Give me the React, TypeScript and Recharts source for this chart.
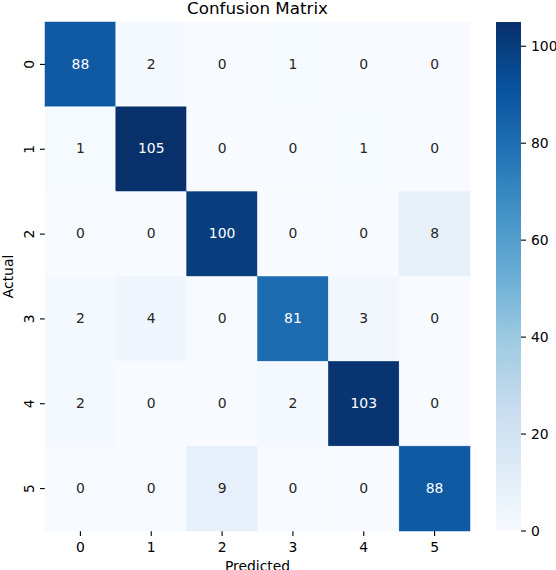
import React from 'react';
import { ScatterChart, Scatter, XAxis, YAxis, BarChart, Bar } from 'recharts';

// class labels for both axes
const classLabels = [0, 1, 2, 3, 4, 5];

// one array per actual class (row), values per predicted class (column)
const actual0 = [88, 2, 0, 1, 0, 0];
const actual1 = [1, 105, 0, 0, 1, 0];
const actual2 = [0, 0, 100, 0, 0, 8];
const actual3 = [2, 4, 0, 81, 3, 0];
const actual4 = [2, 0, 0, 2, 103, 0];
const actual5 = [0, 0, 9, 0, 0, 88];

const colorbarTicks = [0, 20, 40, 60, 80, 100];
const vmax = 105;

// matplotlib "Blues"
const blues = ['#f7fbff', '#deebf7', '#c6dbef', '#9ecae1', '#6baed6', '#4292c6', '#2171b5', '#08519c', '#08306b'];

const FONT = '"DejaVu Sans", sans-serif';
const PLOT_W = 425;
const PLOT_H = 509;
const CELL_W = PLOT_W / classLabels.length;
const CELL_H = PLOT_H / classLabels.length;

const hexToRgb = (h: string) => [1, 3, 5].map((i) => parseInt(h.slice(i, i + 2), 16));

const blueAt = (t: number) => {
  const p = Math.max(0, Math.min(1, t)) * (blues.length - 1);
  const i = Math.min(Math.floor(p), blues.length - 2);
  const f = p - i;
  const a = hexToRgb(blues[i]);
  const b = hexToRgb(blues[i + 1]);
  const c = a.map((v, k) => Math.round(v + (b[k] - v) * f));
  return { rgb: c, css: `rgb(${c[0]},${c[1]},${c[2]})` };
};

// seaborn picks annotation colour from the cell luminance
const luminance = (rgb: number[]) => {
  const lin = rgb.map((v) => {
    const s = v / 255;
    return s <= 0.03928 ? s / 12.92 : Math.pow((s + 0.055) / 1.055, 2.4);
  });
  return 0.2126 * lin[0] + 0.7152 * lin[1] + 0.0722 * lin[2];
};

const rows = [actual0, actual1, actual2, actual3, actual4, actual5];
const cells = rows.flatMap((row, r) => row.map((v, c) => ({ x: c, y: r, v })));
const colorbarData = [{ name: 'scale', v: vmax }];

// gradient stops top (dark) -> bottom (light)
const gradientStops = [...blues].reverse();

const HeatCell = (props: any) => {
  const { cx, cy, payload } = props;
  const col = blueAt(payload.v / vmax);
  const textFill = luminance(col.rgb) > 0.408 ? '#262626' : '#ffffff';
  return (
    <g>
      <rect
        x={cx - CELL_W / 2}
        y={cy - CELL_H / 2}
        width={CELL_W}
        height={CELL_H}
        fill={col.css}
        stroke={col.css}
        strokeWidth={0.5}
      />
      <text x={cx} y={cy} dy="0.3em" textAnchor="middle" fontSize={13.9} fontFamily={FONT} fill={textFill}>
        {payload.v}
      </text>
    </g>
  );
};

const RotatedTick = (props: any) => {
  const { y, payload } = props;
  return (
    <text
      x={34}
      y={y}
      transform={`rotate(-90 34 ${y})`}
      textAnchor="middle"
      fontSize={13.9}
      fontFamily={FONT}
      fill="#000"
    >
      {payload.value}
    </text>
  );
};

export default function App() {
  return (
    <div style={{ position: 'absolute', left: 0, top: 0, width: 556, height: 570, background: '#fff' }}>
      <div style={{ position: 'absolute', left: 0, top: 0 }}>
        <ScatterChart width={556} height={570} margin={{ top: 22, right: 86, bottom: 0, left: 0 }}>
          <XAxis
            type="number"
            dataKey="x"
            domain={[-0.5, 5.5]}
            ticks={classLabels}
            height={39}
            axisLine={false}
            tickSize={5}
            tickMargin={6}
            tickLine={{ stroke: '#000', strokeWidth: 1.1 }}
            tick={{ fontSize: 13.9, fontFamily: FONT, fill: '#000' }}
          />
          <YAxis
            type="number"
            dataKey="y"
            domain={[-0.5, 5.5]}
            reversed
            ticks={classLabels}
            width={45}
            axisLine={false}
            tickSize={5}
            tickLine={{ stroke: '#000', strokeWidth: 1.1 }}
            tick={<RotatedTick />}
          />
          <Scatter data={cells} shape={<HeatCell />} isAnimationActive={false} />
        </ScatterChart>
      </div>
      <div style={{ position: 'absolute', left: 496, top: 0 }}>
        <BarChart width={70} height={570} data={colorbarData} margin={{ top: 22, right: 0, bottom: 39, left: 0 }} barCategoryGap={0}>
          <defs>
            <linearGradient id="cbGrad" x1="0" y1="0" x2="0" y2="1">
              {gradientStops.map((c, i) => (
                <stop key={c} offset={`${(i / (gradientStops.length - 1)) * 100}%`} stopColor={c} />
              ))}
            </linearGradient>
          </defs>
          <XAxis dataKey="name" hide />
          <YAxis
            orientation="right"
            type="number"
            domain={[0, vmax]}
            ticks={colorbarTicks}
            width={45}
            axisLine={false}
            tickSize={5}
            tickMargin={5}
            tickLine={{ stroke: '#000', strokeWidth: 1.1 }}
            tick={{ fontSize: 13.9, fontFamily: FONT, fill: '#000', textAnchor: 'start' }}
          />
          <Bar dataKey="v" fill="url(#cbGrad)" isAnimationActive={false} />
        </BarChart>
      </div>
      <svg width={556} height={570} style={{ position: 'absolute', left: 0, top: 0, pointerEvents: 'none' }}>
        <text x={257.5} y={14} textAnchor="middle" fontSize={16.7} fontFamily={FONT} fill="#000">
          Confusion Matrix
        </text>
        <text x={257.5} y={571} textAnchor="middle" fontSize={13.9} fontFamily={FONT} fill="#000">
          Predicted
        </text>
        <text
          x={13}
          y={276.5}
          transform="rotate(-90 13 276.5)"
          textAnchor="middle"
          fontSize={13.9}
          fontFamily={FONT}
          fill="#000"
        >
          Actual
        </text>
      </svg>
    </div>
  );
}
